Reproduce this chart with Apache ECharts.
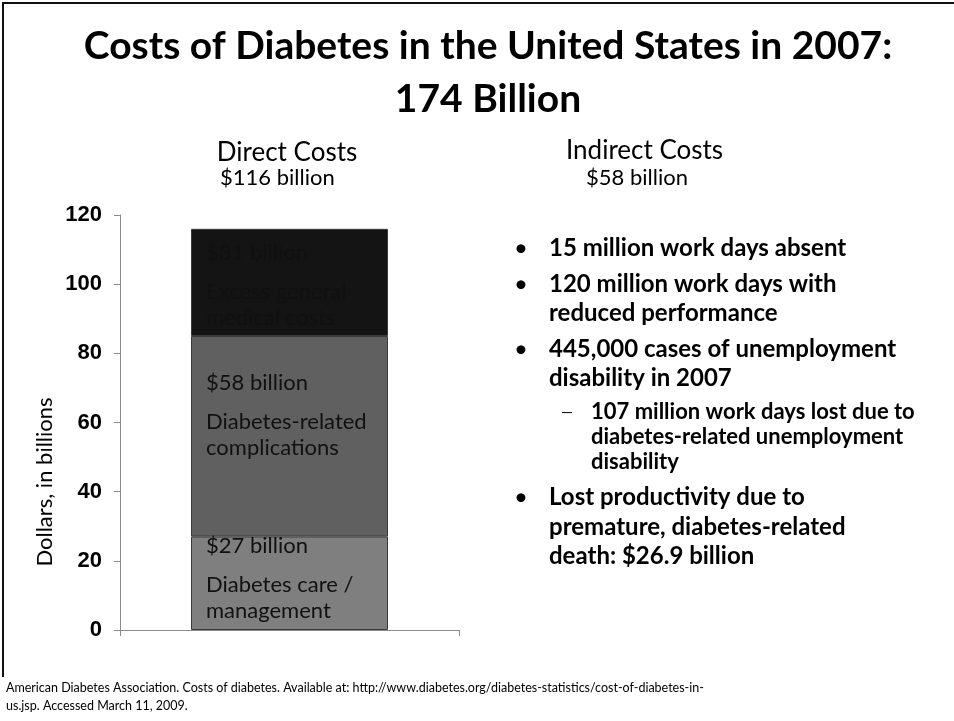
<!DOCTYPE html>
<html>
<head>
<meta charset="utf-8">
<script src="https://cdn.jsdelivr.net/npm/echarts@6/dist/echarts.min.js"></script>
<style>
  html, body { margin: 0; padding: 0; background: #ffffff; }
  #chart { width: 954px; height: 721px; }
</style>
</head>
<body>
<div id="chart"></div>
<script>
// ---- data ----
const categories = ['Direct Costs'];
const segmentNames = ['Diabetes care / management', 'Diabetes-related complications', 'Excess general medical costs'];
const segmentValues = [27, 58, 31];
const segmentAmounts = ['$27 billion', '$58 billion', '$31 billion'];
const segmentDescriptions = [
  ['Diabetes care /', 'management'],
  ['Diabetes-related', 'complications'],
  ['Excess general', 'medical costs']
];
const yTickValues = [0, 20, 40, 60, 80, 100, 120];
const yAxisTitle = 'Dollars, in billions';

const titleLines = ['Costs of Diabetes in the United States in 2007:', '174 Billion'];
const directHeading = ['Direct Costs', '$116 billion'];
const indirectHeading = ['Indirect Costs', '$58 billion'];
const indirectItems = [
  { level: 1, lines: ['15 million work days absent'] },
  { level: 1, lines: ['120 million work days with', 'reduced performance'] },
  { level: 1, lines: ['445,000 cases of unemployment', 'disability in 2007'] },
  { level: 2, lines: ['107 million work days lost due to', 'diabetes-related unemployment', 'disability'] },
  { level: 1, lines: ['Lost productivity due to', 'premature, diabetes-related', 'death: $26.9 billion'] }
];
const sourceNote = [
  'American Diabetes Association. Costs of diabetes. Available at: http://www.diabetes.org/diabetes-statistics/cost-of-diabetes-in-',
  'us.jsp. Accessed March 11, 2009.'
];

// ---- styling ----
const FONT = 'Lato, "Open Sans", sans-serif';
const segmentColors = ['#7f7f7f', '#606060', '#141414'];
const labelOffsets = [[15, -17], [15, 21], [15, -2]];

const chart = echarts.init(document.getElementById('chart'), null, { renderer: 'canvas' });

const series = segmentValues.map((v, i) => ({
  name: segmentNames[i],
  type: 'bar',
  stack: 'direct',
  barWidth: 197,
  data: [v],
  itemStyle: { color: segmentColors[i], borderColor: '#3a3a3a', borderWidth: 1 },
  label: {
    show: true,
    position: labelOffsets[i],
    align: 'left',
    verticalAlign: 'top',
    formatter: () => '{a|' + segmentAmounts[i] + '}\n' + segmentDescriptions[i].map(t => '{d|' + t + '}').join('\n'),
    rich: {
      a: { fontFamily: FONT, fontSize: 22, color: '#111111', lineHeight: 52 },
      d: { fontFamily: FONT, fontSize: 22, color: '#111111', lineHeight: 26 }
    }
  },
  emphasis: { disabled: true },
  animation: false
}));

const graphics = [];
// slide frame (top and left edges)
graphics.push({ type: 'line', shape: { x1: 2, y1: 3, x2: 954, y2: 3 }, style: { stroke: '#111', lineWidth: 2 } });
graphics.push({ type: 'line', shape: { x1: 3, y1: 2, x2: 3, y2: 677 }, style: { stroke: '#111', lineWidth: 2 } });

titleLines.forEach((t, i) => {
  graphics.push({
    type: 'text', x: 488, y: 46 + i * 53,
    style: { text: t, font: 'bold 39px ' + FONT, fill: '#000', textAlign: 'center', textVerticalAlign: 'middle' }
  });
});

graphics.push({ type: 'text', x: 287, y: 153, style: { text: directHeading[0], font: '26px ' + FONT, fill: '#000', textAlign: 'center', textVerticalAlign: 'middle' } });
graphics.push({ type: 'text', x: 220, y: 178, style: { text: directHeading[1], font: '22px ' + FONT, fill: '#000', textAlign: 'left', textVerticalAlign: 'middle' } });
graphics.push({ type: 'text', x: 566, y: 151, style: { text: indirectHeading[0], font: '26px ' + FONT, fill: '#000', textAlign: 'left', textVerticalAlign: 'middle' } });
graphics.push({ type: 'text', x: 586, y: 178, style: { text: indirectHeading[1], font: '22px ' + FONT, fill: '#000', textAlign: 'left', textVerticalAlign: 'middle' } });

// rotated value-axis title
graphics.push({
  type: 'text', x: 45, y: 482, rotation: Math.PI / 2,
  style: { text: yAxisTitle, font: '22px ' + FONT, fill: '#000', textAlign: 'center', textVerticalAlign: 'middle' }
});

const lineY = [[248], [284, 313], [349, 378], [412, 437, 462], [497, 527, 556]];
indirectItems.forEach((item, i) => {
  const main = item.level === 1;
  const markerX = main ? 514 : 561;
  const textX = main ? 549 : 591;
  const size = main ? 24 : 22;
  graphics.push({
    type: 'text', x: markerX, y: lineY[i][0],
    style: { text: main ? '•' : '—', font: (main ? 24 : 15) + 'px ' + FONT, fill: '#000', textAlign: 'left', textVerticalAlign: 'middle' }
  });
  item.lines.forEach((ln, j) => {
    graphics.push({
      type: 'text', x: textX, y: lineY[i][j],
      style: { text: ln, font: 'bold ' + size + 'px ' + FONT, fill: '#000', textAlign: 'left', textVerticalAlign: 'middle' }
    });
  });
});

sourceNote.forEach((t, i) => {
  graphics.push({
    type: 'text', x: 6, y: 688 + i * 18,
    style: { text: t, font: '12.5px ' + FONT, fill: '#000', textAlign: 'left', textVerticalAlign: 'middle' }
  });
});

chart.setOption({
  backgroundColor: '#ffffff',
  animation: false,
  grid: { left: 120, right: 495, top: 215, bottom: 91, containLabel: false },
  xAxis: {
    type: 'category',
    data: categories,
    axisLine: { show: true, lineStyle: { color: '#8c8c8c', width: 1 } },
    axisTick: { show: true, length: 6, lineStyle: { color: '#8c8c8c' } },
    axisLabel: { show: false }
  },
  yAxis: {
    type: 'value',
    min: yTickValues[0],
    max: yTickValues[yTickValues.length - 1],
    interval: yTickValues[1] - yTickValues[0],
    axisLine: { show: true, lineStyle: { color: '#8c8c8c', width: 1 } },
    axisTick: { show: true, length: 6, lineStyle: { color: '#8c8c8c' } },
    splitLine: { show: false },
    axisLabel: { fontFamily: '"Liberation Sans", Arial, sans-serif', fontWeight: 'bold', fontSize: 22, color: '#000', margin: 18 }
  },
  series: series,
  graphic: graphics
});
</script>
</body>
</html>
